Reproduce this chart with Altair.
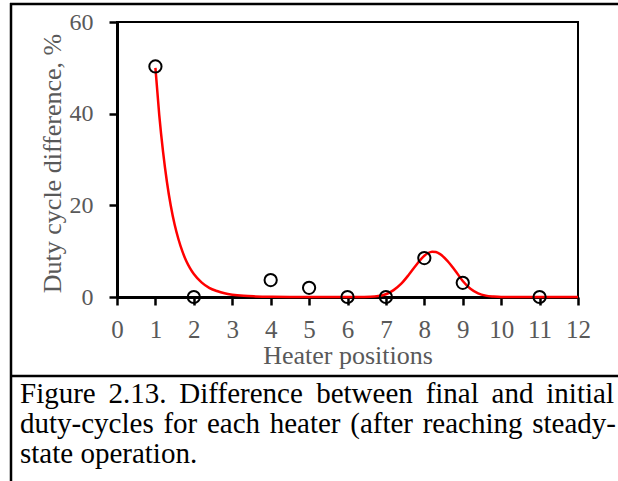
import altair as alt
import pandas as pd

# ---------------- data ----------------
positions = [1, 2, 4, 5, 6, 7, 8, 9, 11]
duty_diff = [50.3, 0.0, 3.7, 2.0, 0.0, 0.0, 8.5, 3.1, 0.0]

trend_x = [1.0, 1.1, 1.2, 1.3, 1.4, 1.5, 1.6, 1.7, 1.8, 1.9, 2.0,
           2.2, 2.4, 2.6, 2.8, 3.0, 3.3, 3.6, 4.0, 4.5, 5.0,
           6.0, 6.4, 6.6, 6.8, 7.0, 7.2, 7.4, 7.6, 7.8,
           8.0, 8.1, 8.2, 8.3, 8.4, 8.6, 8.8, 9.0, 9.2, 9.4, 9.6, 9.8,
           10.0, 11.0, 12.0]
trend_y = [50.0, 39.7, 31.6, 25.1, 19.9, 15.8, 12.6, 10.0, 7.9, 6.3, 5.0,
           3.2, 2.0, 1.3, 0.8, 0.5, 0.25, 0.13, 0.05, 0.02, 0.0,
           0.0, 0.02, 0.05, 0.2, 0.6, 1.5, 2.9, 4.9, 7.1,
           9.0, 9.6, 9.9, 9.8, 9.4, 7.9, 5.8, 3.5, 1.8, 0.8, 0.3, 0.1,
           0.0, 0.0, 0.0]

x_ticks = list(range(0, 13))
y_ticks = [0, 20, 40, 60]

x_title = "Heater positions"
y_title = "Duty cycle difference, %"
caption_lines = [
    "Figure 2.13. Difference between final and initial",
    "duty-cycles for each heater (after reaching steady-",
    "state operation.",
]

# ---------------- layout ----------------
FONT = "Liberation Serif"
GRAY = "#595959"
PAD_L, PAD_T = 117, 22
W, H = 461, 275
TOTAL_W, TOTAL_H = 618, 481

points_df = pd.DataFrame({"pos": positions, "diff": duty_diff})
trend_df = pd.DataFrame({"pos": trend_x, "diff": trend_y})

xscale = alt.Scale(domain=[0, 12], nice=False, zero=False)
yscale = alt.Scale(domain=[0, 60], nice=False)

x_axis = alt.Axis(
    values=x_ticks, title=x_title, grid=False, labelOverlap=False,
    domainColor="black", domainWidth=3, tickColor="black", tickWidth=2.5,
    tickSize=8, labelFont=FONT, labelFontSize=25, labelColor=GRAY,
    labelBaseline="alphabetic", labelPadding=32, labelFlush=False,
    titleFont=FONT, titleFontSize=26, titleFontWeight="normal", titleColor=GRAY,
    titleBaseline="alphabetic", titleAlign="center", titleX=W / 2, titleY=66,
)
y_axis = alt.Axis(
    values=y_ticks, title=y_title, grid=False, labelOverlap=False,
    domainColor="black", domainWidth=3, tickColor="black", tickWidth=2.5,
    tickSize=8, labelFont=FONT, labelFontSize=24, labelColor=GRAY,
    labelPadding=16, labelFlush=False,
    titleFont=FONT, titleFontSize=26, titleFontWeight="normal", titleColor=GRAY,
    titleBaseline="alphabetic", titleAlign="center", titleAngle=270,
    titleX=-57, titleY=141,
)

line = alt.Chart(trend_df).mark_line(
    color="#ff0000", strokeWidth=2.5, interpolate="monotone", clip=False
).encode(
    x=alt.X("pos:Q", scale=xscale, axis=x_axis),
    y=alt.Y("diff:Q", scale=yscale, axis=y_axis),
)

pts = alt.Chart(points_df).mark_point(
    shape="circle", filled=False, color="black", size=150, strokeWidth=2,
    opacity=1, clip=False
).encode(
    x=alt.X("pos:Q", scale=xscale, axis=x_axis),
    y=alt.Y("diff:Q", scale=yscale, axis=y_axis),
)

one = alt.Data(values=[{"a": 1}])

def rule(x1, y1, x2, y2, w):
    return alt.Chart(one).mark_rule(color="black", strokeWidth=w).encode(
        x=alt.value(x1 - PAD_L), y=alt.value(y1 - PAD_T),
        x2=alt.value(x2 - PAD_L), y2=alt.value(y2 - PAD_T),
    )

frame = [
    rule(11, 3, 11, TOTAL_H + 2, 2.5),        # left border
    rule(10, 4, TOTAL_W + 2, 4, 2.5),          # top border
    rule(10, 376, TOTAL_W + 2, 376, 2.5),      # separator above caption
]

# Times-compatible advance widths (per 1000 em) for justification
WIDTHS = {
    "a": 444, "b": 500, "c": 444, "d": 500, "e": 444, "f": 333, "g": 500,
    "h": 500, "i": 278, "j": 278, "k": 500, "l": 278, "m": 778, "n": 500,
    "o": 500, "p": 500, "q": 500, "r": 333, "s": 389, "t": 278, "u": 500,
    "v": 500, "w": 722, "x": 500, "y": 500, "z": 444, "F": 556, "D": 722,
    ".": 250, "-": 333, "(": 333, ")": 333, ",": 250, " ": 250,
}
CAP_SIZE = 29

def word_w(wd):
    return sum(WIDTHS.get(c, 500) for c in wd) * CAP_SIZE / 1000.0

caption_layers = []
line_specs = [(20, 614, 403, True), (20, 616, 433, True), (20, None, 463, False)]
for text, (left, right, base, justify) in zip(caption_lines, line_specs):
    words = text.split(" ")
    if justify:
        total = sum(word_w(w) for w in words)
        gap = (right - left - total) / (len(words) - 1)
    else:
        gap = WIDTHS[" "] * CAP_SIZE / 1000.0
    xpos = left
    for wd in words:
        caption_layers.append(
            alt.Chart(one).mark_text(
                text=wd, font=FONT, fontSize=CAP_SIZE, color="black",
                align="left", baseline="alphabetic",
            ).encode(x=alt.value(xpos - PAD_L), y=alt.value(base - PAD_T))
        )
        xpos += word_w(wd) + gap

chart = alt.layer(line, pts, *frame, *caption_layers).properties(
    width=W, height=H,
    autosize=alt.AutoSizeParams(type="none"),
    padding={"left": PAD_L, "top": PAD_T,
             "right": TOTAL_W - PAD_L - W, "bottom": TOTAL_H - PAD_T - H},
    background="white",
).configure_view(
    stroke="black", strokeWidth=2
)

chart.save("out.html", embed_options={"renderer": "svg", "actions": False})
